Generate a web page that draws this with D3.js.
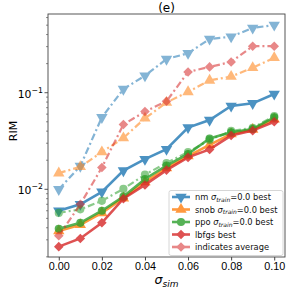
<!DOCTYPE html>
<html>
<head>
<meta charset="utf-8">
<script src="https://cdn.jsdelivr.net/npm/d3@7"></script>
<style>
  body { margin: 0; background: #fff; }
  svg { display: block; font-family: "DejaVu Sans", sans-serif; }
</style>
</head>
<body>
<div id="chart"></div>
<script>
// sigma_sim values
const sigmaSim = [0.00, 0.01, 0.02, 0.03, 0.04, 0.05, 0.06, 0.07, 0.08, 0.09, 0.10];

// best runs
const nmBest    = [0.0060, 0.0070, 0.0094, 0.0156, 0.0205, 0.0260, 0.0436, 0.0521, 0.0728, 0.0776, 0.0970];
const snobBest  = [0.0037, 0.0043, 0.0057, 0.0081, 0.0119, 0.0166, 0.0221, 0.0288, 0.0373, 0.0416, 0.0531];
const ppoBest   = [0.0039, 0.0045, 0.0060, 0.0084, 0.0128, 0.0176, 0.0232, 0.0336, 0.0389, 0.0421, 0.0556];
const lbfgsBest = [0.00255, 0.0031, 0.0045, 0.0080, 0.0111, 0.0158, 0.0214, 0.0259, 0.0360, 0.0405, 0.0501];

// averages
const nmAvg    = [0.0100, 0.0174, 0.0556, 0.109, 0.150, 0.223, 0.256, 0.360, 0.380, 0.468, 0.502];
const snobAvg  = [0.0147, 0.0171, 0.0243, 0.0340, 0.0543, 0.0792, 0.102, 0.134, 0.147, 0.181, 0.230];
const ppoAvg   = [0.0057, 0.0062, 0.0076, 0.0101, 0.0142, 0.0187, 0.0243, 0.0324, 0.0402, 0.0432, 0.0574];
const lbfgsAvg = [0.0033, 0.0070, 0.0168, 0.0469, 0.0638, 0.0815, 0.164, 0.185, 0.208, 0.303, 0.303];

const xTicks = [0.00, 0.02, 0.04, 0.06, 0.08, 0.10];
const yMajor = [0.01, 0.1];

const colors = { nm: '#1f77b4', snob: '#ff7f0e', ppo: '#2ca02c', lbfgs: '#d62728' };
const markers = { nm: 'tdown', snob: 'tup', ppo: 'circle', lbfgs: 'diamond' };

const series = [
  { key: 'nm', values: nmBest, avg: false },
  { key: 'nm', values: nmAvg, avg: true },
  { key: 'snob', values: snobBest, avg: false },
  { key: 'snob', values: snobAvg, avg: true },
  { key: 'ppo', values: ppoBest, avg: false },
  { key: 'ppo', values: ppoAvg, avg: true },
  { key: 'lbfgs', values: lbfgsBest, avg: false },
  { key: 'lbfgs', values: lbfgsAvg, avg: true }
];

const width = 291, height = 289;
const margin = { top: 14, right: 6, bottom: 32, left: 48 };
const innerW = width - margin.left - margin.right;
const innerH = height - margin.top - margin.bottom;

const svg = d3.select('#chart').append('svg')
  .attr('width', width)
  .attr('height', height);

const g = svg.append('g').attr('transform', `translate(${margin.left},${margin.top})`);

const x = d3.scaleLinear().domain([-0.005, 0.105]).range([0, innerW]);
const y = d3.scaleLog().domain([0.001992, 0.6528]).range([innerH, 0]);

function markerPath(type) {
  if (type === 'circle') return d3.symbol(d3.symbolCircle, 52)();
  if (type === 'diamond') return d3.symbol(d3.symbolSquare, 46)();
  return d3.symbol(d3.symbolTriangle, 56)();
}
function markerRot(type) {
  if (type === 'diamond') return 45;
  if (type === 'tdown') return 180;
  return 0;
}

const line = d3.line()
  .x((d, i) => x(sigmaSim[i]))
  .y(d => y(d));

// lines and markers
series.forEach(s => {
  const c = colors[s.key];
  const grp = g.append('g').attr('opacity', s.avg ? 0.55 : 0.8);
  grp.append('path')
    .datum(s.values)
    .attr('d', line)
    .attr('fill', 'none')
    .attr('stroke', c)
    .attr('stroke-width', s.avg ? 2.2 : 2.6)
    .attr('stroke-dasharray', s.avg ? '7,3,2,3' : null);
  grp.selectAll('path.m')
    .data(s.values)
    .join('path')
    .attr('class', 'm')
    .attr('d', markerPath(markers[s.key]))
    .attr('transform', (d, i) => `translate(${x(sigmaSim[i])},${y(d)}) rotate(${markerRot(markers[s.key])})`)
    .attr('fill', c);
});

// axes frame
g.append('rect')
  .attr('width', innerW)
  .attr('height', innerH)
  .attr('fill', 'none')
  .attr('stroke', '#444')
  .attr('stroke-width', 0.9);

// x axis
const xAxis = g.append('g').attr('transform', `translate(0,${innerH})`)
  .call(d3.axisBottom(x).tickValues(xTicks).tickFormat(d3.format('.2f')).tickSize(3.5).tickPadding(1.5));
xAxis.select('.domain').remove();
xAxis.selectAll('text').attr('font-size', 10.8).attr('fill', '#000');
xAxis.selectAll('line').attr('stroke', '#444');

// y axis minor ticks
const minor = [];
[0.001, 0.01, 0.1].forEach(b => {
  for (let k = 2; k <= 9; k++) {
    const v = b * k;
    if (v >= y.domain()[0] && v <= y.domain()[1]) minor.push(v);
  }
});
g.selectAll('line.minor')
  .data(minor)
  .join('line')
  .attr('class', 'minor')
  .attr('x1', -2).attr('x2', 0)
  .attr('y1', d => y(d)).attr('y2', d => y(d))
  .attr('stroke', '#444')
  .attr('stroke-width', 0.6);

g.selectAll('line.major')
  .data(yMajor)
  .join('line')
  .attr('class', 'major')
  .attr('x1', -3.5).attr('x2', 0)
  .attr('y1', d => y(d)).attr('y2', d => y(d))
  .attr('stroke', '#444')
  .attr('stroke-width', 0.9);

const yLab = g.selectAll('text.ylab')
  .data(yMajor)
  .join('text')
  .attr('class', 'ylab')
  .attr('x', -5)
  .attr('y', d => y(d) + 5)
  .attr('text-anchor', 'end')
  .attr('font-size', 10.8);
yLab.append('tspan').text('10');
yLab.append('tspan')
  .attr('dy', -5)
  .attr('font-size', 7.8)
  .text(d => '\u2212' + Math.round(-Math.log10(d)));

// title and labels
svg.append('text')
  .attr('x', margin.left + innerW / 2)
  .attr('y', 12)
  .attr('text-anchor', 'middle')
  .attr('font-size', 12)
  .text('(e)');

svg.append('text')
  .attr('transform', `translate(17,131) rotate(-90)`)
  .attr('text-anchor', 'middle')
  .attr('font-size', 11)
  .text('RIM');

const xl = svg.append('text')
  .attr('x', margin.left + innerW / 2)
  .attr('y', 284)
  .attr('text-anchor', 'middle')
  .attr('font-size', 12.5);
xl.append('tspan').attr('font-style', 'italic').text('\u03c3');
xl.append('tspan').attr('font-style', 'italic').attr('font-size', 9).attr('dy', 2.5).text('sim');

// legend
const legendItems = [
  { key: 'nm', label: 'nm', sub: true, avg: false },
  { key: 'snob', label: 'snob', sub: true, avg: false },
  { key: 'ppo', label: 'ppo', sub: true, avg: false },
  { key: 'lbfgs', label: 'lbfgs best', sub: false, avg: false },
  { key: 'lbfgs', label: 'indicates average', sub: false, avg: true }
];

const lg = svg.append('g').attr('transform', 'translate(169,190.5)');
lg.append('rect')
  .attr('width', 114)
  .attr('height', 65)
  .attr('rx', 2)
  .attr('fill', '#fff')
  .attr('fill-opacity', 0.85)
  .attr('stroke', '#ccc')
  .attr('stroke-width', 0.8);

legendItems.forEach((it, i) => {
  const cy = 6.5 + i * 12.5;
  const c = colors[it.key];
  const row = lg.append('g').attr('opacity', it.avg ? 0.55 : 0.8);
  row.append('line')
    .attr('x1', 3).attr('x2', 21)
    .attr('y1', cy).attr('y2', cy)
    .attr('stroke', c)
    .attr('stroke-width', 2.6);
  row.append('path')
    .attr('d', markerPath(markers[it.key]))
    .attr('transform', `translate(12,${cy}) rotate(${markerRot(markers[it.key])})`)
    .attr('fill', c);
  const t = lg.append('text')
    .attr('x', 26)
    .attr('y', cy + 3)
    .attr('font-size', 8.3)
    .attr('fill', '#111');
  if (it.sub) {
    t.append('tspan').text(it.label + ' ');
    t.append('tspan').attr('font-style', 'italic').text('\u03c3');
    t.append('tspan').attr('font-style', 'italic').attr('font-size', 6).attr('dy', 1.5).text('train');
    t.append('tspan').attr('dy', -1.5).text('=0.0 best');
  } else {
    t.text(it.label);
  }
});
</script>
</body>
</html>
